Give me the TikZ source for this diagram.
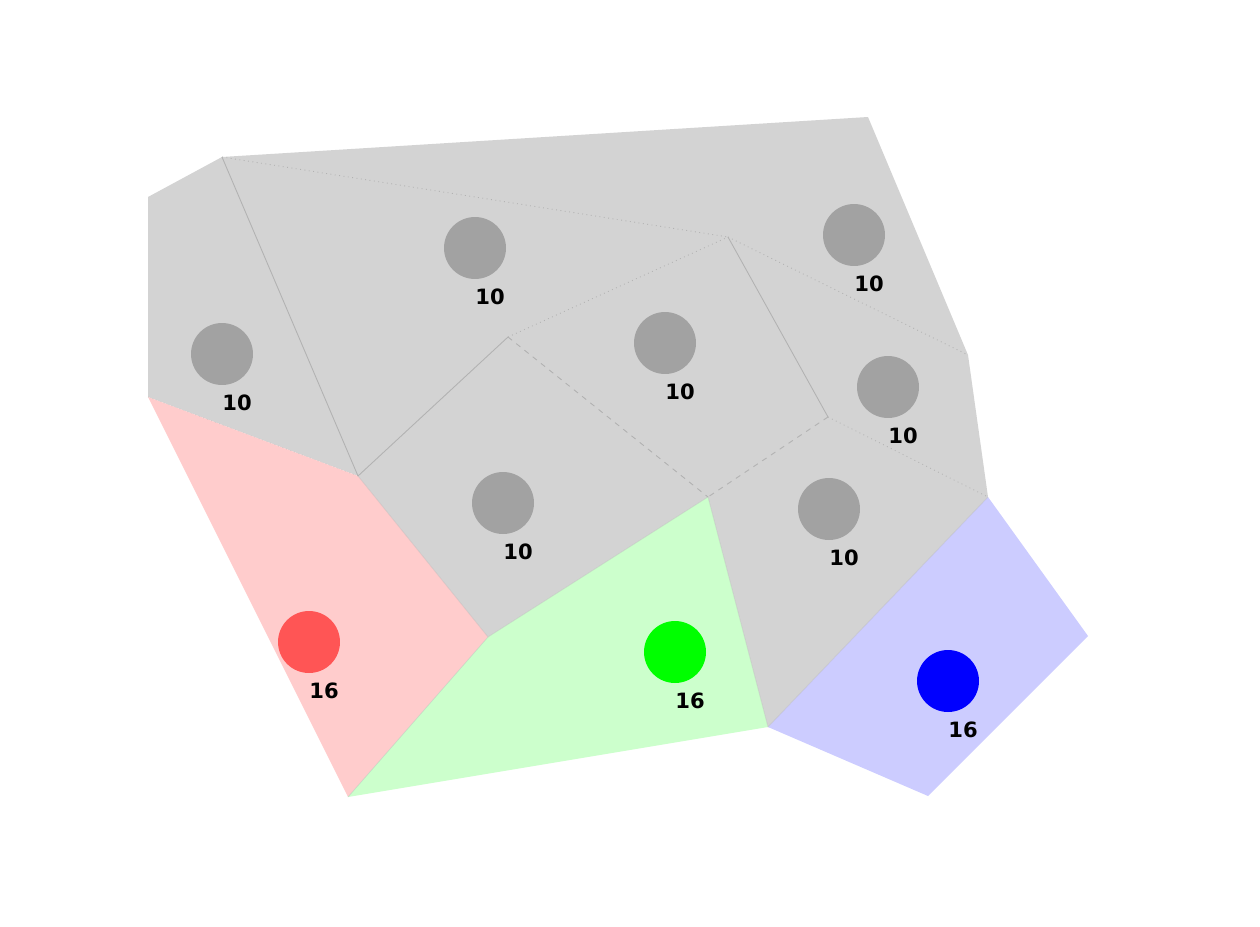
\documentclass[tikz,border=0pt]{standalone}
\usepackage{fontspec}
\setmainfont{DejaVu Sans}
\usetikzlibrary{positioning}

\definecolor{cellgray}{HTML}{D3D3D3}
\definecolor{sitegray}{HTML}{A2A2A2}
\definecolor{edgegray}{HTML}{B2B2B2}
\definecolor{cellred}{HTML}{FFCCCC}
\definecolor{sitered}{HTML}{FF5555}
\definecolor{cellgreen}{HTML}{CCFFCC}
\definecolor{sitegreen}{HTML}{00FF00}
\definecolor{cellblue}{HTML}{CCCCFF}
\definecolor{siteblue}{HTML}{0000FF}

\begin{document}
\begin{tikzpicture}[x=0.02cm, y=-0.02cm,
  site/.style={circle, minimum size=1.24cm, inner sep=0pt},
  weight/.style={font=\fontsize{12}{14}\selectfont\bfseries, inner sep=0pt},
  border/.style={draw=edgegray, line width=0.5pt},
  softborder/.style={draw=edgegray, line width=0.4pt, opacity=0.4},
]
\useasboundingbox (0,0) rectangle (1260,926);

% outer corners
\coordinate (a) at (148,197);
\coordinate (b) at (222,157);
\coordinate (c) at (868,117);
\coordinate (d) at (968,355);
\coordinate (e) at (988,497);
\coordinate (f) at (1088,636);
\coordinate (g) at (928,796);
\coordinate (h) at (768,727);
\coordinate (i) at (348,797);
\coordinate (j) at (148,397);
% inner corners
\coordinate (k) at (358,476);
\coordinate (l) at (508,337);
\coordinate (m) at (728,237);
\coordinate (n) at (828,417);
\coordinate (o) at (708,497);
\coordinate (p) at (488,637);

% cells
\fill[cellgray] (a) -- (b) -- (c) -- (d) -- (e) -- (h) -- (o) -- (p) -- (k) -- (j) -- cycle;
\fill[cellred] (j) -- (k) -- (p) -- (i) -- cycle;
\fill[cellgreen] (p) -- (o) -- (h) -- (i) -- cycle;
\fill[cellblue] (e) -- (f) -- (g) -- (h) -- cycle;

% cell borders
\draw[border] (b) -- (k);
\draw[border] (k) -- (l);
\draw[border] (m) -- (n);
\draw[border, dotted] (b) -- (m);
\draw[border, dotted] (l) -- (m);
\draw[border, dotted] (m) -- (d);
\draw[border, dotted] (n) -- (e);
\draw[border, dashed] (l) -- (o);
\draw[border, dashed] (n) -- (o);
\draw[softborder, dotted] (j) -- (k);
\draw[softborder] (k) -- (p) -- (o) -- (h) -- (e);
\draw[softborder] (p) -- (i);

% sites
\node[site, fill=sitegray] (s1) at (222,354) {};
\node[site, fill=sitegray] (s2) at (475,248) {};
\node[site, fill=sitegray] (s3) at (854,235) {};
\node[site, fill=sitegray] (s4) at (665,343) {};
\node[site, fill=sitegray] (s5) at (888,387) {};
\node[site, fill=sitegray] (s6) at (503,503) {};
\node[site, fill=sitegray] (s7) at (829,509) {};
\node[site, fill=sitered] (s8) at (309,642) {};
\node[site, fill=sitegreen] (s9) at (675,652) {};
\node[site, fill=siteblue] (s10) at (948,681) {};

% weights
\foreach \s/\w in {s1/10, s2/10, s3/10, s4/10, s5/10, s6/10, s7/10, s8/16, s9/16, s10/16}
  \node[weight, below=0.18cm of \s, xshift=0.3cm] (w\s) {\w};

\end{tikzpicture}
\end{document}
